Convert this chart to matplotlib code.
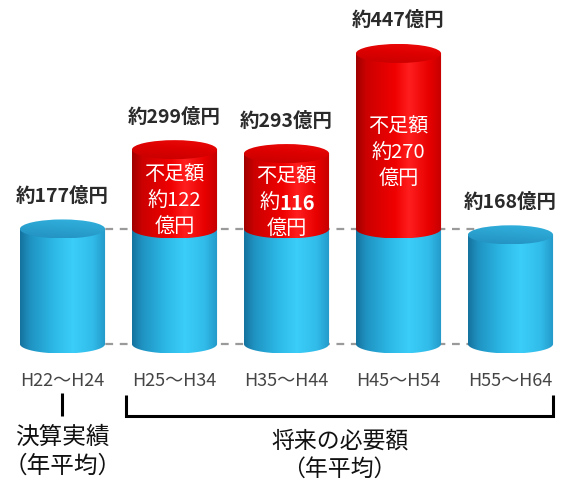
import numpy as np
import matplotlib
matplotlib.use("Agg")
import matplotlib.pyplot as plt
from matplotlib.path import Path
from matplotlib.patches import PathPatch, Ellipse
from matplotlib.colors import LinearSegmentedColormap

plt.rcParams['font.family'] = ['Noto Sans CJK JP', 'DejaVu Sans']

# ---- data ----
categories = ["H22～H24", "H25～H34", "H35～H44", "H45～H54", "H55～H64"]
base_values = [177, 177, 177, 177, 168]
deficit_values = [0, 122, 116, 270, 0]
total_values = [177, 299, 293, 447, 168]
bold_deficit_digits = [False, False, True, False, False]
group_left = "決算実績\n（年平均）"
group_right = "将来の必要額\n（年平均）"

W_PX, H_PX = 566, 485
fig = plt.figure(figsize=(W_PX / 100, H_PX / 100), dpi=100)
ax = fig.add_axes([0, 0, 1, 1])
ax.axis('off')

# scale: pixels per unit
s = 0.65
y0_px = 345.0
xlim = (-62.5 / 112, (W_PX - 62.5) / 112)
ylim = (-(H_PX - y0_px) / s, y0_px / s)

w = 0.38          # half width in x units
eh = 9.5 / s      # ellipse half height in y units

blue_body = LinearSegmentedColormap.from_list("bb", [
    (0.0, "#15729e"), (0.12, "#1f93c2"), (0.40, "#2db9e6"),
    (0.62, "#3bcef8"), (0.85, "#31bbe9"), (1.0, "#2398c8")])
red_body = LinearSegmentedColormap.from_list("rb", [
    (0.0, "#a00000"), (0.12, "#cc0000"), (0.45, "#f00000"),
    (0.62, "#ff1e1e"), (0.85, "#e80000"), (1.0, "#c40000")])
blue_top = LinearSegmentedColormap.from_list("bt", ["#2390c0", "#2aa2d0", "#33b2df"])
red_top = LinearSegmentedColormap.from_list("rt", ["#c80000", "#dc0000", "#ee0a0a"])


def body(xc, yb, yt, cmap, z):
    t = np.linspace(np.pi, 2 * np.pi, 60)
    verts = [(xc - w, yt), (xc - w, yb)]
    verts += [(xc + w * np.cos(a), yb + eh * np.sin(a)) for a in t]
    verts += [(xc + w, yt), (xc - w, yt)]
    codes = [Path.MOVETO] + [Path.LINETO] * (len(verts) - 2) + [Path.CLOSEPOLY]
    patch = PathPatch(Path(verts, codes), facecolor='none', edgecolor='none', zorder=z)
    ax.add_patch(patch)
    grad = np.linspace(0, 1, 256).reshape(1, -1)
    im = ax.imshow(grad, cmap=cmap, extent=(xc - w, xc + w, yb - eh, yt),
                   aspect='auto', zorder=z, interpolation='bilinear')
    im.set_clip_path(patch)


def top(xc, yt, cmap, z):
    e = Ellipse((xc, yt), 2 * w, 2 * eh, facecolor='none', edgecolor='none', zorder=z)
    ax.add_patch(e)
    gy = np.linspace(0, 1, 64).reshape(-1, 1)
    gx = np.linspace(0, 1, 64).reshape(1, -1)
    grad = 0.75 * gy + 0.25 * gx
    im = ax.imshow(grad, cmap=cmap, extent=(xc - w, xc + w, yt + eh, yt - eh),
                   aspect='auto', zorder=z, interpolation='bilinear', origin='upper')
    im.set_clip_path(e)


# dashed reference lines
ax.hlines([base_values[0], 0], 0, len(categories) - 1, colors="#9a9a9a",
          linestyles=(0, (3.5, 3)), linewidth=1.6, zorder=1)

for i, (b, d, tot) in enumerate(zip(base_values, deficit_values, total_values)):
    z = 3 + i * 3
    body(i, 0, b, blue_body, z)
    if d > 0:
        body(i, b, tot, red_body, z + 1)
        top(i, tot, red_top, z + 2)
    else:
        top(i, b, blue_top, z + 2)

    # total label
    ax.annotate(f"約{tot}億円", (i, tot + eh), xytext=(0, 24), textcoords='offset pixels',
                ha='center', va='center', fontsize=14, fontweight='bold',
                color="#2a2a2a", zorder=30)
    # deficit label
    if d > 0:
        ym = (b + tot) / 2
        kw = dict(ha='center', va='center', fontsize=14.5, color='white', zorder=30,
                  textcoords='offset pixels')
        ax.annotate("不足額", (i, ym), xytext=(0, 16), **kw)
        if bold_deficit_digits[i]:
            ax.annotate("約", (i, ym), xytext=(-7, -11), textcoords='offset pixels',
                        ha='right', va='center', fontsize=14.5, color='white', zorder=30)
            ax.annotate(f"{d}", (i, ym), xytext=(-7, -11), textcoords='offset pixels',
                        ha='left', va='center', fontsize=14.5, fontweight='bold',
                        color='white', zorder=30)
        else:
            ax.annotate(f"約{d}", (i, ym), xytext=(0, -11), **kw)
        ax.annotate("億円", (i, ym), xytext=(0, -36), **kw)

    # category label
    ax.annotate(categories[i], (i, 0), xytext=(0, -(381 - y0_px)), textcoords='offset pixels',
                ha='center', va='center', fontsize=13, color="#454545", zorder=30)

# bracket annotations (y in axes fraction)
tr = ax.get_xaxis_transform()
def fy(p):
    return 1 - p / H_PX

ax.plot([0, 0], [fy(394), fy(417)], color='black', linewidth=2.2, transform=tr,
        clip_on=False, solid_capstyle='butt')
xl, xr = 1 - w - 0.05, len(categories) - 1 + w
ax.plot([xl, xl, xr, xr], [fy(396), fy(416.5), fy(416.5), fy(396)], color='black',
        linewidth=2.2, transform=tr, clip_on=False, solid_joinstyle='miter',
        solid_capstyle='butt')

ax.text(0, fy(452), group_left, transform=tr, ha='center', va='center',
        fontsize=17, color='#111111', linespacing=1.3)
ax.text((xl + xr) / 2, fy(455), group_right, transform=tr, ha='center', va='center',
        fontsize=16.5, color='#111111', linespacing=1.3)

ax.set_xlim(*xlim)
ax.set_ylim(*ylim)
fig.savefig("out.png", dpi=100)
